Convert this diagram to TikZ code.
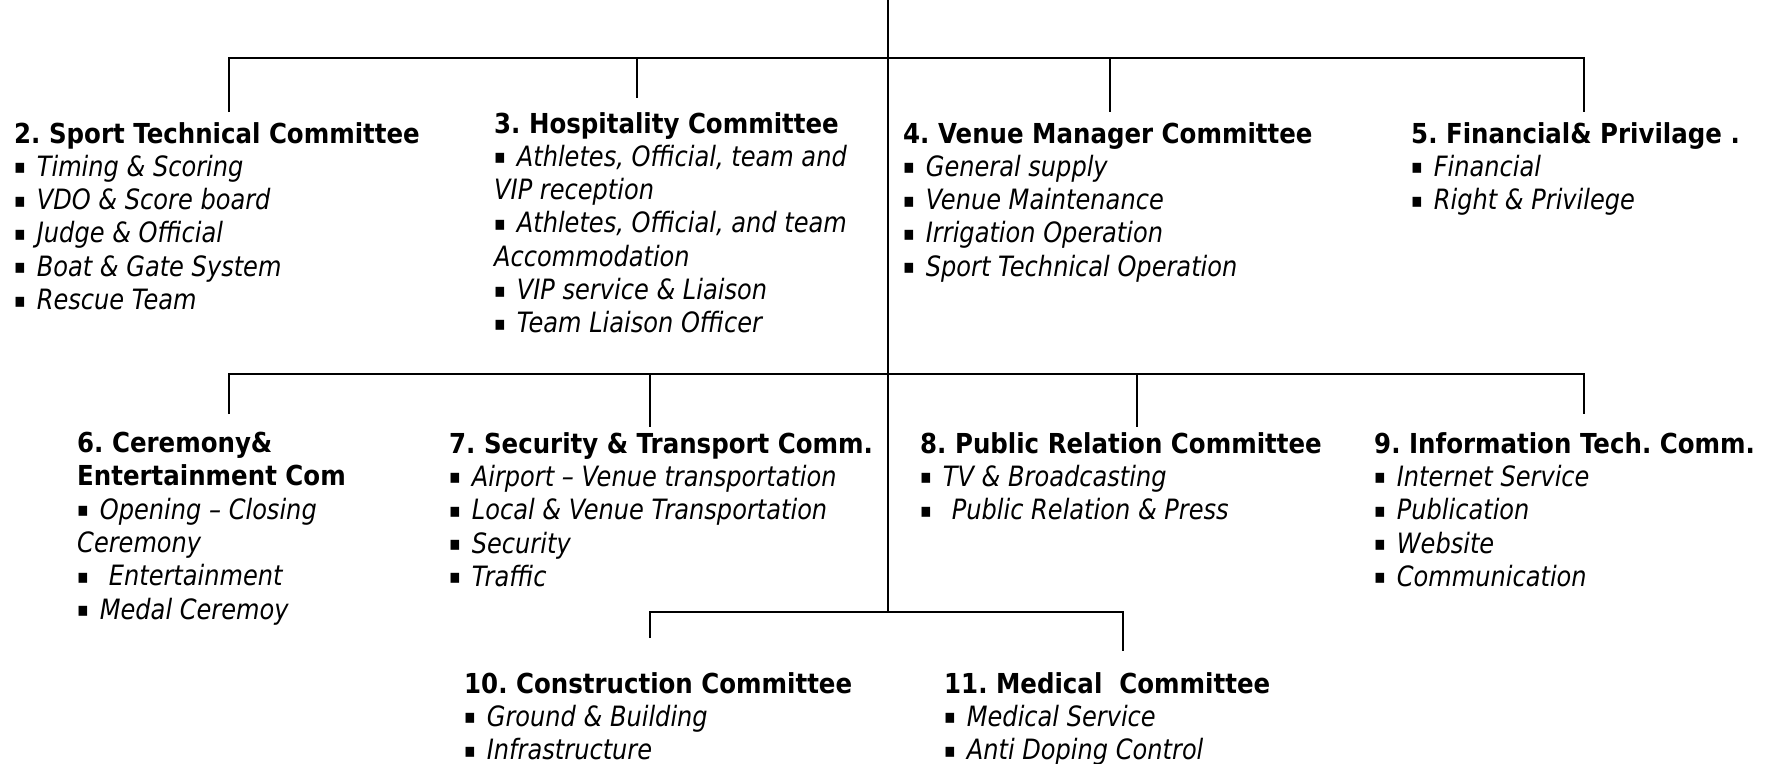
\documentclass[tikz,border=0pt]{standalone}
\usepackage{fontspec}
\newfontfamily\hfam{DejaVu Sans}[FakeStretch=0.89]
\newfontfamily\ifam{DejaVu Sans}[FakeStretch=0.86]
\newcommand{\hd}[1]{{\hfam\upshape\bfseries\fontsize{27.5}{33.3}\selectfont #1}}
\newcommand{\bul}{\raisebox{2.5pt}{\upshape\fontsize{20}{33.3}\selectfont ▪}\hspace{11pt}}
\frenchspacing

\begin{document}
\begin{tikzpicture}[x=1pt, y=-1pt,
  com/.style={anchor=north west, inner sep=0pt, align=left,
    font=\ifam\itshape\fontsize{28}{33.3}\selectfont},
  link/.style={line width=1.8pt}]
\useasboundingbox (0,0) rectangle (1771,763);

\node[com] (c2) at (14,122) {\hd{2. Sport Technical Committee}\\
  \bul Timing \& Scoring\\ \bul VDO \& Score board\\ \bul Judge \& Official\\
  \bul Boat \& Gate System\\ \bul Rescue Team};
\node[com] (c3) at (494,112) {\hd{3. Hospitality Committee}\\
  \bul Athletes, Official, team and\\ VIP reception\\
  \bul Athletes, Official, and team\\ Accommodation\\
  \bul VIP service \& Liaison\\ \bul Team Liaison Officer};
\node[com] (c4) at (903,122) {\hd{4. Venue Manager Committee}\\
  \bul General supply\\ \bul Venue Maintenance\\ \bul Irrigation Operation\\
  \bul Sport Technical Operation};
\node[com] (c5) at (1411,122) {\hd{5. Financial\& Privilage .}\\
  \bul Financial\\ \bul Right \& Privilege};

\node[com] (c6) at (77,432) {\hd{6. Ceremony\&}\\ \hd{Entertainment Com}\\
  \bul Opening – Closing\\ Ceremony\\ \bul\hspace{9pt}Entertainment\\
  \bul Medal Ceremoy};
\node[com] (c7) at (449,432) {\hd{7. Security \& Transport Comm.}\\
  \bul Airport – Venue transportation\\ \bul Local \& Venue Transportation\\
  \bul Security\\ \bul Traffic};
\node[com] (c8) at (920,432) {\hd{8. Public Relation Committee}\\
  \bul TV \& Broadcasting\\ \bul\hspace{9pt}Public Relation \& Press};
\node[com] (c9) at (1374,432) {\hd{9. Information Tech. Comm.}\\
  \bul Internet Service\\ \bul Publication\\ \bul Website\\ \bul Communication};

\node[com] (c10) at (464,672) {\hd{10. Construction Committee}\\
  \bul Ground \& Building\\ \bul Infrastructure};
\node[com] (c11) at (944,672) {\hd{11. Medical\ \ Committee}\\
  \bul Medical Service\\ \bul Anti Doping Control};

\coordinate (root) at (888,0);
\coordinate (j1) at (888,58);
\coordinate (j2) at (888,374);
\coordinate (j3) at (888,612);
\coordinate (t2) at (229,112);
\coordinate (t3) at (637,98);
\coordinate (t4) at (1110,112);
\coordinate (t5) at (1584,112);
\coordinate (t6) at (229,414);
\coordinate (t7) at (650,427);
\coordinate (t8) at (1137,427);
\coordinate (t9) at (1584,414);
\coordinate (t10) at (650,638);
\coordinate (t11) at (1123,651);

\draw[link] (root) -- (j3);
\draw[link] (t2) |- (j1) -| (t5);
\draw[link] (j1 -| t3) -- (t3);
\draw[link] (j1 -| t4) -- (t4);
\draw[link] (t6) |- (j2) -| (t9);
\draw[link] (j2 -| t7) -- (t7);
\draw[link] (j2 -| t8) -- (t8);
\draw[link] (t10) |- (j3) -| (t11);
\end{tikzpicture}
\end{document}
